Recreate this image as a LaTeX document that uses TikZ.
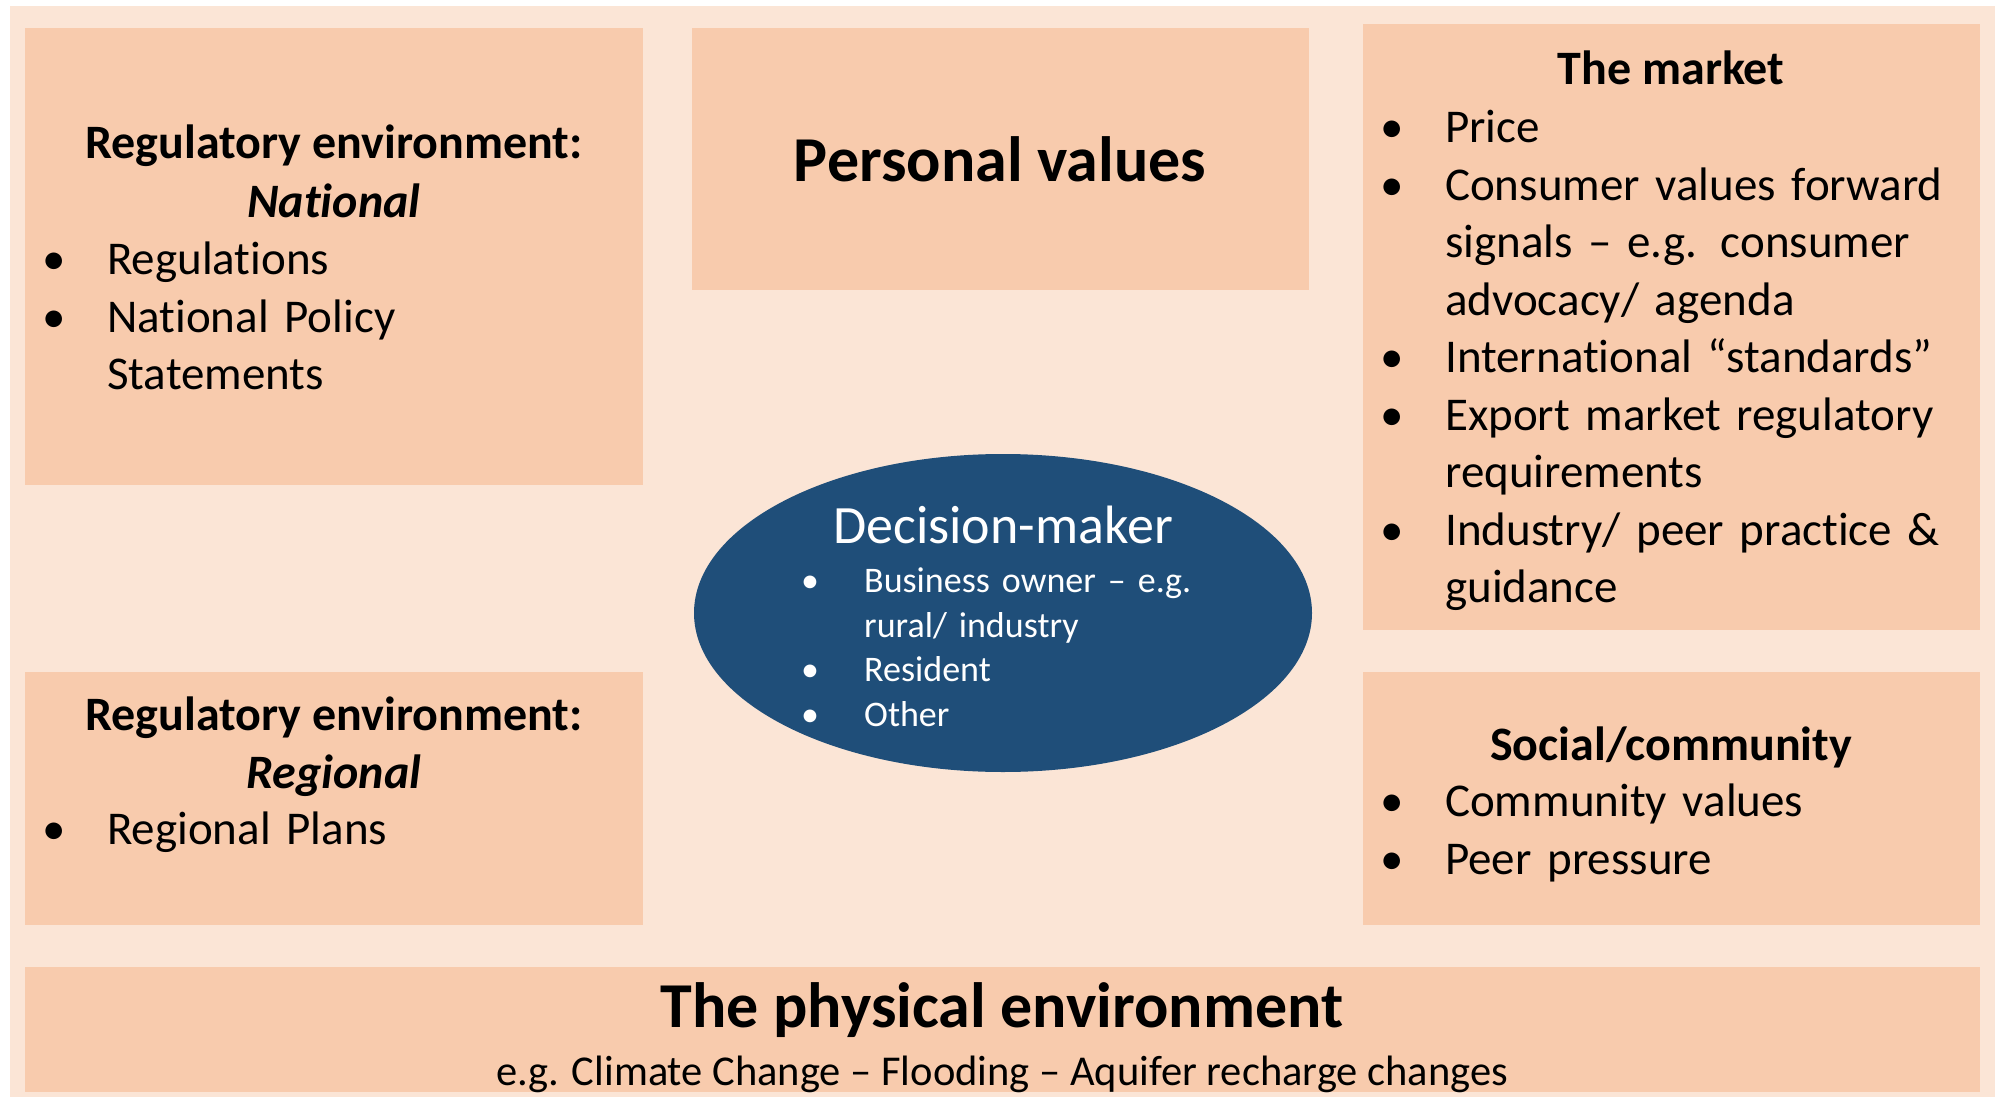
\documentclass[tikz,border=0pt]{standalone}
\usepackage{fontspec}
\setmainfont{Carlito}[Ligatures=NoCommon]
\usetikzlibrary{shapes.geometric}

\definecolor{pagebg}{HTML}{FBE5D6}
\definecolor{boxfill}{HTML}{F8CBAD}
\definecolor{dmblue}{HTML}{1F4E79}

% bullet line with hanging indent
\newcommand{\bitem}[1][65pt]{\par\hangindent=#1\hangafter=1\noindent\makebox[#1][l]{•}\ignorespaces}

\tikzset{
  infobox/.style={fill=boxfill, inner sep=0pt, anchor=north west},
  headtext/.style={font=\fontsize{48}{57.5}\selectfont\bfseries, anchor=base, inner sep=0pt},
  listtext/.style={font=\fontsize{47}{57.5}\selectfont, anchor=north west, inner sep=0pt, text width=620pt, align=left},
  bigtext/.style={font=\fontsize{64}{76}\selectfont\bfseries, anchor=base, inner sep=0pt},
}

\begin{document}
\begin{tikzpicture}[x=1pt,y=-1pt]
	\useasboundingbox[fill=white] (0,0) rectangle (1995,1097);
	\fill[pagebg] (10,6) rectangle (1995,1097);

	% boxes
	\node[infobox, minimum width=618pt, minimum height=457pt] (natbox) at (25,28) {};
	\node[infobox, minimum width=617pt, minimum height=262pt] (pvbox) at (692,28) {};
	\node[infobox, minimum width=617pt, minimum height=606pt] (mktbox) at (1363,24) {};
	\node[infobox, minimum width=618pt, minimum height=253pt] (regbox) at (25,672) {};
	\node[infobox, minimum width=617pt, minimum height=253pt] (socbox) at (1363,672) {};
	\node[infobox, minimum width=1955pt, minimum height=125pt] (physbox) at (25,967) {};

	% regulatory, national
	\node[headtext] (nathead) at (334,159) {Regulatory environment:};
	\node[headtext] (natsub) at (334,217.5) {\itshape National};
	\node[listtext] (natlist) at (42,217) {\bitem Regulations \bitem National Policy\newline Statements\par};

	% personal values
	\node[bigtext] (pvhead) at (1000,182) {Personal values};

	% the market
	\node[headtext] (mkthead) at (1671,85) {The market};
	\node[listtext] (mktlist) at (1380,85) {\bitem Price
		\bitem Consumer values forward\newline signals -- e.g. consumer\newline advocacy/ agenda
		\bitem International “standards”
		\bitem Export market regulatory\newline requirements
		\bitem Industry/ peer practice \&\newline guidance\par};

	% regulatory, regional
	\node[headtext] (reghead) at (334,730) {Regulatory environment:};
	\node[headtext] (regsub) at (334,788.5) {\itshape Regional};
	\node[listtext] (reglist) at (42,787) {\bitem Regional Plans\par};

	% social
	\node[headtext] (sochead) at (1671,760) {Social/community};
	\node[listtext] (soclist) at (1380,759) {\bitem Community values \bitem Peer pressure\par};

	% decision-maker
	\node[ellipse, fill=dmblue, inner sep=0pt, minimum width=618pt, minimum height=318pt] (dm) at (1003,613) {};
	\node[anchor=base, inner sep=0pt, text=white, font=\fontsize{54}{64}\selectfont] (dmhead) at (1003,543) {Decision-maker};
	\node[listtext, text=white, font=\fontsize{36}{44.5}\selectfont, text width=500pt] (dmlist) at (801,548)
		{\bitem[63pt] Business owner -- e.g.\newline rural/ industry \bitem[63pt] Resident \bitem[63pt] Other\par};

	% physical environment
	\node[bigtext] (physhead) at (1002,1027) {The physical environment};
	\node[anchor=base, inner sep=0pt, font=\fontsize{42.5}{50}\selectfont] (physsub) at (1002,1085)
		{e.g. Climate Change -- Flooding -- Aquifer recharge changes};
\end{tikzpicture}
\end{document}
